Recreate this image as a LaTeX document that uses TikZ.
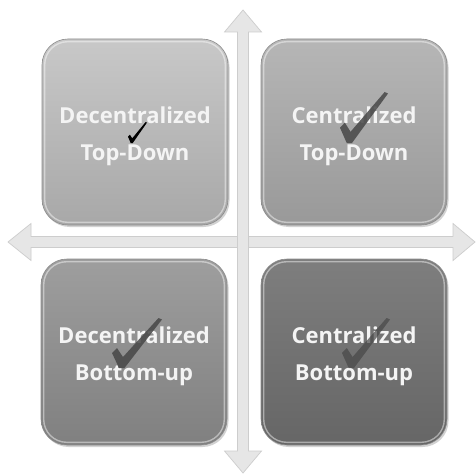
\documentclass[tikz,border=0pt]{standalone}
\usepackage{fontspec}
\setmainfont{Open Sans}
\usetikzlibrary{shadows}
\definecolor{arrowfill}{HTML}{E6E6E6}
\definecolor{arrowedge}{HTML}{CDCDCD}
\definecolor{tltop}{HTML}{C8C8C8}\definecolor{tlbot}{HTML}{A8A8A8}
\definecolor{trtop}{HTML}{B6B6B6}\definecolor{trbot}{HTML}{999999}
\definecolor{bltop}{HTML}{9E9E9E}\definecolor{blbot}{HTML}{808080}
\definecolor{brtop}{HTML}{7E7E7E}\definecolor{brbot}{HTML}{666666}
\definecolor{txt}{HTML}{F4F4F4}
\tikzset{
  quad/.style={rounded corners=26pt, minimum width=186pt, minimum height=186pt,
    draw=black!45, line width=0.6pt, inner sep=0pt,
    drop shadow={shadow xshift=1.5pt, shadow yshift=-2pt, opacity=0.35}},
  quadtxt/.style={text=txt, align=center, inner sep=0pt, yshift=-4pt,
    font=\fontsize{22}{37}\selectfont\bfseries},
  bevel/.style={draw=white, opacity=0.45, line width=1.4pt, rounded corners=23pt},
  axis/.style={fill=arrowfill, draw=arrowedge, line width=0.7pt, line join=miter},
  chk/.pic={\fill[pic actions] (0,0.70) -- (0.10,0.60) -- (0.22,0.78) -- (0.93,0) -- (1,0.03) -- (0.25,1) -- (0.14,1) -- cycle;}
}
\begin{document}
\begin{tikzpicture}[x=1pt,y=-1pt]
\useasboundingbox (0,0) rectangle (476,476);
\fill[white] (0,0) rectangle (476,476);
% axes
\coordinate (ltip) at (8,242);
\coordinate (rtip) at (475,242);
\coordinate (ttip) at (243,10);
\coordinate (btip) at (243,473);
\path[axis] (ltip) -- (31,223.5) -- (31,236.5) -- (453,236.5) -- (453,223.5) -- (rtip)
  -- (453,260.5) -- (453,247.5) -- (31,247.5) -- (31,260.5) -- cycle;
\path[axis] (ttip) -- (261.5,32) -- (248.5,32) -- (248.5,451) -- (261.5,451) -- (btip)
  -- (224.5,451) -- (237.5,451) -- (237.5,32) -- (224.5,32) -- cycle;
\fill[arrowfill] (238,237) rectangle (248,247);
% boxes
\node[quad, top color=tltop, bottom color=tlbot] (tl) at (135,132) {};
\node[quad, top color=trtop, bottom color=trbot] (tr) at (354,132) {};
\node[quad, top color=bltop, bottom color=blbot] (bl) at (134,352) {};
\node[quad, top color=brtop, bottom color=brbot] (br) at (354,352) {};
\foreach \b in {tl,tr,bl,br}{
  \draw[bevel] ([shift={(3,3)}]\b.north west) rectangle ([shift={(-3,-3)}]\b.south east);
}
\node[quadtxt] (tlt) at (tl.center) {Decentralized\\Top-Down};
\node[quadtxt] (trt) at (tr.center) {Centralized\\Top-Down};
\node[quadtxt] (blt) at (bl.center) {Decentralized\\Bottom-up};
\node[quadtxt] (brt) at (br.center) {Centralized\\Bottom-up};
% checks
\pic[fill=black, xscale=19, yscale=21] at (128,122) {chk};
\pic[fill=black!72, opacity=0.85, xscale=48, yscale=51] at (340,92) {chk};
\pic[fill=black!72, opacity=0.85, xscale=50, yscale=50] at (112,318) {chk};
\pic[fill=black!72, opacity=0.7, xscale=48, yscale=50] at (342,318) {chk};
\end{tikzpicture}
\end{document}
